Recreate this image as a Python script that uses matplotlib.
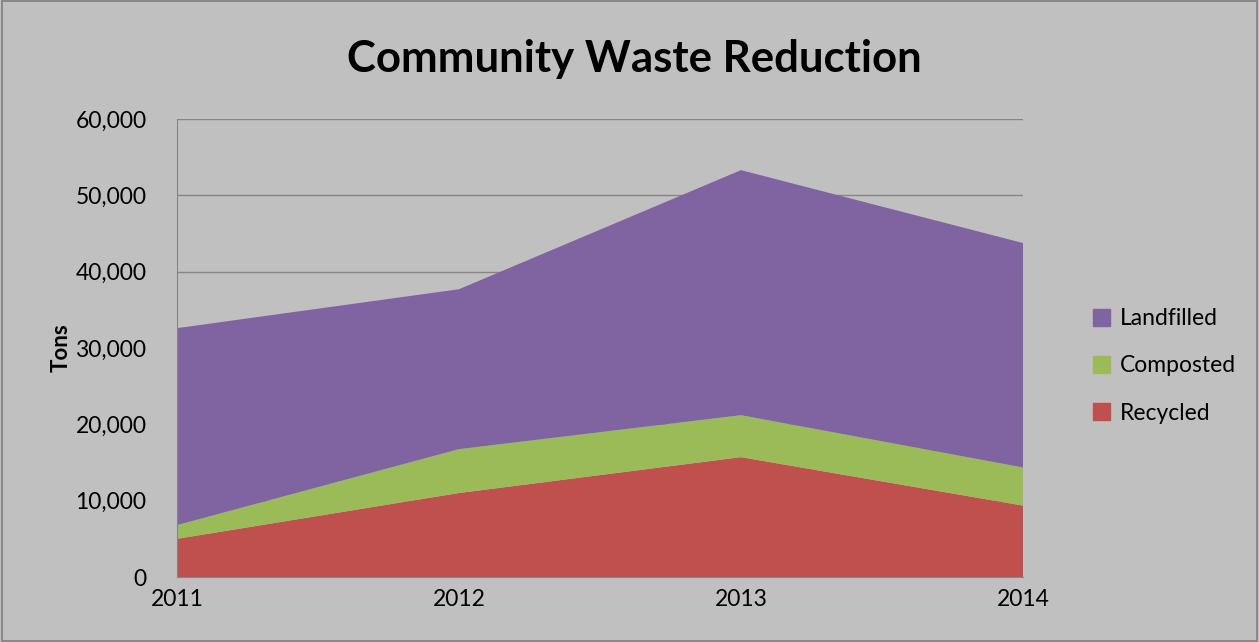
import matplotlib
matplotlib.use("Agg")
import matplotlib.pyplot as plt
from matplotlib.ticker import FuncFormatter
from matplotlib.patches import Patch

years = [2011, 2012, 2013, 2014]
recycled = [5000, 11000, 15700, 9350]
composted = [1800, 5750, 5500, 5000]
landfilled = [25800, 20950, 32100, 29400]
series_names = ["Recycled", "Composted", "Landfilled"]
colors = ["#C0504D", "#9BBB59", "#8064A2"]

plt.rcParams['font.family'] = ['Lato', 'DejaVu Sans']
bg = "#C0C0C0"

fig = plt.figure(figsize=(12.59, 6.42), dpi=100, facecolor=bg)
fig.patches.append(plt.Rectangle((0.0015, 0.002), 0.997, 0.996, transform=fig.transFigure,
                                 fill=False, edgecolor="#7F7F7F", linewidth=1.2))
ax = fig.add_axes([177/1259, 1-577/642, (1023-177)/1259, (577-119)/642])
ax.set_facecolor(bg)

x = list(range(len(years)))
ax.stackplot(x, recycled, composted, landfilled, colors=colors, linewidth=0)
ax.set_xlim(0, len(years)-1)
ax.set_ylim(0, 60000)
ax.set_yticks(range(0, 60001, 10000))
ax.yaxis.set_major_formatter(FuncFormatter(lambda v, p: f"{int(v):,}"))
ax.set_xticks(x)
ax.set_xticklabels([str(y) for y in years])
ax.grid(axis='y', color="#868686", linewidth=1)
ax.set_axisbelow(True)
for s in ["top", "right"]:
    ax.spines[s].set_visible(False)
for s in ["left", "bottom"]:
    ax.spines[s].set_color("#868686")
ax.tick_params(axis='both', labelsize=16.5, colors="#868686", labelcolor="black", length=0)
ax.tick_params(axis='y', pad=22)
ax.tick_params(axis='x', pad=9)
ax.set_ylabel("Tons", fontsize=16, fontweight='bold', labelpad=3)

fig.text(634/1259, 1-59/642, "Community Waste Reduction", ha='center', va='center',
         fontsize=31.5, fontweight='bold')

handles = [Patch(color=colors[2]), Patch(color=colors[1]), Patch(color=colors[0])]
leg = fig.legend(handles, ["Landfilled", "Composted", "Recycled"], loc='center left',
                 bbox_to_anchor=(1072/1259, 1-366/642), frameon=False, fontsize=16.5,
                 handlelength=0.75, handleheight=0.75, handletextpad=0.45, labelspacing=1.15)

fig.savefig("out.png", dpi=100, facecolor=bg)
